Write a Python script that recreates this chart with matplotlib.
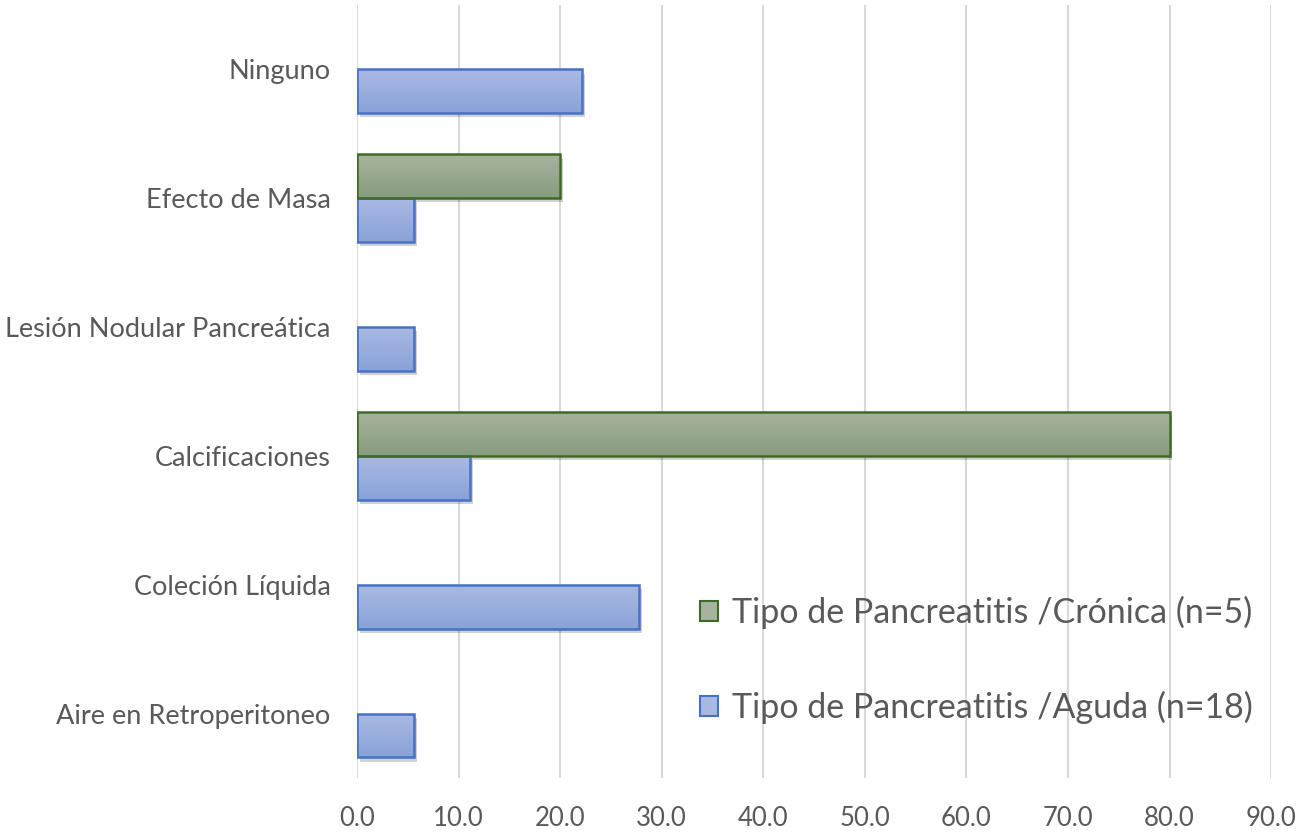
import numpy as np
import matplotlib.pyplot as plt
from matplotlib import patheffects as pe
from matplotlib.colors import LinearSegmentedColormap
from matplotlib.patches import Patch

# ---------------- data ----------------
categories = ["Aire en Retroperitoneo", "Coleción Líquida", "Calcificaciones",
              "Lesión Nodular Pancreática", "Efecto de Masa", "Ninguno"]
aguda = [5.6, 27.8, 11.1, 5.6, 5.6, 22.2]
cronica = [0.0, 0.0, 80.0, 0.0, 20.0, 0.0]
label_aguda = "Tipo de Pancreatitis /Aguda (n=18)"
label_cronica = "Tipo de Pancreatitis /Crónica (n=5)"

# ---------------- style ----------------
plt.rcParams["font.family"] = ["Lato", "DejaVu Sans"]
TEXT = "#595959"
GRID = "#D9D9D9"
BLUE_EDGE, BLUE_TOP, BLUE_BOT = "#4472C4", "#AAB9E2", "#8AA2D9"
GREEN_EDGE, GREEN_TOP, GREEN_BOT = "#3D6B25", "#A7B39F", "#889C7E"
BAR_H = 0.34


def gradient_bars(ax, y, widths, top, bottom, edge):
    cmap = LinearSegmentedColormap.from_list("g", [bottom, top])
    shadow = [pe.SimplePatchShadow(offset=(2, -3), shadow_rgbFace="k", alpha=0.18),
              pe.Normal()]
    bars = ax.barh(y, widths, height=BAR_H, color=bottom, edgecolor="none",
                   zorder=2, path_effects=shadow)
    grad = np.linspace(0, 1, 64).reshape(-1, 1)
    for b, w in zip(bars, widths):
        if w == 0:
            b.set_visible(False)
            continue
        x0, y0 = b.get_x(), b.get_y()
        im = ax.imshow(grad, cmap=cmap, aspect="auto", origin="lower",
                       extent=(x0, x0 + w, y0, y0 + BAR_H), zorder=3,
                       interpolation="bilinear")
        im.set_clip_path(b)
    outline = ax.barh(y, widths, height=BAR_H, color="none", edgecolor=edge,
                      linewidth=1.8, zorder=4)
    for b, w in zip(outline, widths):
        if w == 0:
            b.set_visible(False)


fig = plt.figure(figsize=(13.01, 8.32), dpi=100)
ax = fig.add_axes([0.2744, 0.0649, 0.7026, 0.9291])

pos = np.arange(len(categories))
gradient_bars(ax, pos - BAR_H / 2, aguda, BLUE_TOP, BLUE_BOT, BLUE_EDGE)
gradient_bars(ax, pos + BAR_H / 2, cronica, GREEN_TOP, GREEN_BOT, GREEN_EDGE)

ax.set_xlim(0, 90)
ax.set_ylim(-0.5, len(categories) - 0.5)
ax.set_xticks(np.arange(0, 91, 10))
ax.set_xticklabels([f"{v:.1f}" for v in np.arange(0, 91, 10)])
ax.set_yticks(pos)
ax.set_yticklabels(categories)
ax.tick_params(axis="x", length=0, pad=20, labelsize=18.5, labelcolor=TEXT)
ax.tick_params(axis="y", length=0, pad=19, labelsize=19.5, labelcolor=TEXT)
ax.grid(axis="x", color=GRID, linewidth=1.5, zorder=0)
ax.set_axisbelow(True)
for s in ax.spines.values():
    s.set_visible(False)

handles = [Patch(facecolor=GREEN_TOP, edgecolor=GREEN_EDGE, linewidth=1.5, label=label_cronica),
           Patch(facecolor=BLUE_TOP, edgecolor=BLUE_EDGE, linewidth=1.5, label=label_aguda)]
fig.legend(handles=handles, loc="center left", bbox_to_anchor=(0.5145, 0.2067),
           frameon=False, fontsize=24.5, labelcolor=TEXT, handlelength=0.53,
           handleheight=0.53, handletextpad=0.41, labelspacing=1.8)

fig.savefig("out.png", dpi=100)
